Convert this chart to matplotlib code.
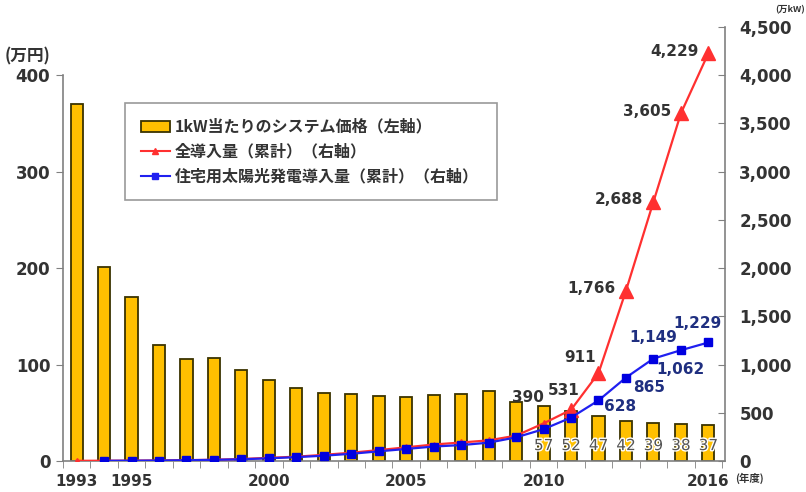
import matplotlib
matplotlib.use("Agg")
import matplotlib.pyplot as plt
import numpy as np
from matplotlib.lines import Line2D
from matplotlib.patches import Patch
import matplotlib.patheffects as pe

plt.rcParams["font.family"] = ["DejaVu Sans", "Noto Sans CJK JP"]

years = list(range(1993, 2017))
price = [370, 201, 170, 120, 106, 107, 94, 84, 76, 71, 69, 67,
         66, 68, 69, 73, 61, 57, 52, 47, 42, 39, 38, 37]
total = [2, 3, 4, 6, 9, 13, 21, 33, 45, 64, 86, 113,
         142, 171, 192, 214, 263, 390, 531, 911, 1766, 2688, 3605, 4229]
res_years = list(range(1994, 2017))
residential = [2, 3, 5, 8, 12, 18, 28, 40, 55, 75, 100,
               125, 150, 165, 190, 245, 330, 450, 628, 865, 1062, 1149, 1229]
xtick_years = [1993, 1995, 2000, 2005, 2010, 2016]

legend_labels = ["1kW当たりのシステム価格（左軸）",
                 "全導入量（累計）（右軸）",
                 "住宅用太陽光発電導入量（累計）（右軸）"]

jp = ["Noto Sans CJK JP", "DejaVu Sans"]
dark = "#333333"
red = "#FF3030"
blue = "#2020F0"
navy = "#1F2F80"

fig = plt.figure(figsize=(8.06, 4.92), dpi=100)
ax = fig.add_axes([0.078, 0.063, 0.822, 0.882])
ax2 = ax.twinx()

# bars (left axis)
ax.bar(years, price, width=0.44, color="#FFC000", edgecolor="#3A3300",
       linewidth=1.3, zorder=2)
ax.set_xlim(1992.5, 2016.62)
ax.set_ylim(0, 450)
ax.set_yticks([0, 100, 200, 300, 400])
ax.spines["left"].set_bounds(0, 400)
for s in ["top", "right"]:
    ax.spines[s].set_visible(False)
for s in ["left", "bottom"]:
    ax.spines[s].set_color("#808080")
    ax.spines[s].set_linewidth(1.2)
ax.tick_params(axis="y", direction="out", length=5, color="#808080",
               labelsize=12, labelcolor=dark, pad=4)
ax.set_xticks(xtick_years)
ax.set_xticks(np.arange(1992.5, 2017, 1), minor=True)
ax.tick_params(axis="x", which="major", length=0, labelsize=11,
               labelcolor=dark, pad=9)
ax.tick_params(axis="x", which="minor", direction="out", length=5,
               color="#808080")
for lab in ax.get_xticklabels() + ax.get_yticklabels():
    lab.set_fontweight("bold")

# bar value labels for recent years
for y, v in zip(years, price):
    if y >= 2010:
        ax.text(y, 16, str(v), ha="center", va="center", fontsize=11,
                color="#555555", zorder=6,
                path_effects=[pe.withStroke(linewidth=2, foreground="white")])

# lines (right axis)
ax2.plot(years, total, color=red, lw=1.6, zorder=3)
small = [i for i, y in enumerate(years) if y < 2011]
big = [i for i, y in enumerate(years) if y >= 2011]
ax2.plot([years[i] for i in small], [total[i] for i in small], ls="none",
         marker="^", ms=4, color=red, zorder=4)
ax2.plot([years[i] for i in big], [total[i] for i in big], ls="none",
         marker="^", ms=10, color=red, zorder=4)
ax2.plot(res_years, residential, color=blue, lw=1.6, marker="s", ms=6,
         markerfacecolor="#0000E0", markeredgecolor="#0000E0", zorder=5)

ax2.set_ylim(0, 4500)
ax2.set_yticks(range(0, 4501, 500))
ax2.set_yticklabels([f"{v:,}" for v in range(0, 4501, 500)])
for s in ["top", "left", "bottom"]:
    ax2.spines[s].set_visible(False)
ax2.spines["right"].set_color("#808080")
ax2.spines["right"].set_linewidth(1.2)
ax2.tick_params(axis="y", direction="in", length=5, color="#808080",
                labelsize=12, labelcolor=dark, pad=10)
for lab in ax2.get_yticklabels():
    lab.set_fontweight("bold")

# total labels
total_offsets = {2010: (-16, 26, "center"), 2011: (-7, 19, "center"),
                 2012: (-18, 16, "center")}
for y, v in zip(years, total):
    if y in total_offsets:
        dx, dy, ha = total_offsets[y]
        ax2.annotate(f"{v:,}", (y, v), xytext=(dx, dy),
                     textcoords="offset pixels", ha=ha, va="center",
                     fontsize=11, fontweight="bold", color=dark)
    elif y >= 2013:
        ax2.annotate(f"{v:,}", (y, v), xytext=(-10, 2),
                     textcoords="offset pixels", ha="right", va="center",
                     fontsize=11, fontweight="bold", color=dark)

# residential labels
res_offsets = {2012: (6, -6, "left"), 2013: (7, -10, "left"),
               2014: (3, -11, "left"), 2015: (-28, 13, "center"),
               2016: (-11, 19, "center")}
for y, v in zip(res_years, residential):
    if y in res_offsets:
        dx, dy, ha = res_offsets[y]
        ax2.annotate(f"{v:,}", (y, v), xytext=(dx, dy),
                     textcoords="offset pixels", ha=ha, va="center",
                     fontsize=11, fontweight="bold", color=navy)

# unit labels
fig.text(0.006, 0.885, "(万円)", family=jp, fontsize=12, fontweight="bold",
         color=dark, ha="left", va="center")
fig.text(0.999, 0.99, "(万kW)", family=jp, fontsize=6.5, fontweight="bold",
         color=dark, ha="right", va="top")
fig.text(0.912, 0.028, "(年度)", family=jp, fontsize=7.5, fontweight="bold",
         color=dark, ha="left", va="center")

# legend
handles = [
    Patch(facecolor="#FFC000", edgecolor="#3A3300", linewidth=1.3),
    Line2D([], [], color=red, lw=1.5, marker="^", ms=5),
    Line2D([], [], color=blue, lw=1.5, marker="s", ms=4),
]
leg = fig.legend(handles, legend_labels, loc="upper left",
                 bbox_to_anchor=(0.155, 0.597, 0.462, 0.194), mode="expand",
                 frameon=True, fancybox=False,
                 prop={"family": jp, "size": 11.5, "weight": "bold"},
                 handlelength=1.8, handleheight=0.7, handletextpad=0.3,
                 labelspacing=0.55, borderpad=1.0, borderaxespad=0,
                 edgecolor="#808080")
leg.get_frame().set_linewidth(1.2)
leg.set_zorder(10)
for t in leg.get_texts():
    t.set_color(dark)

fig.savefig("out.png", dpi=100)
